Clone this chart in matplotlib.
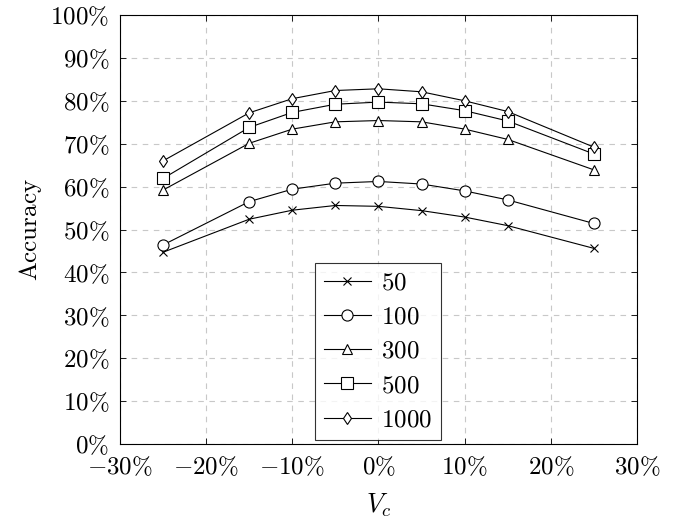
import numpy as np
import matplotlib
matplotlib.use("Agg")
import matplotlib.pyplot as plt

plt.rcParams['mathtext.fontset'] = 'cm'
plt.rcParams['font.family'] = 'serif'
plt.rcParams['font.serif'] = ['DejaVu Serif']

# Vc values (%)
vc = [-25, -15, -10, -5, 0, 5, 10, 15, 25]

# accuracy (%) per sample count
acc_50 = [44.7, 52.4, 54.5, 55.6, 55.4, 54.4, 52.9, 50.9, 45.6]
acc_100 = [46.4, 56.5, 59.4, 60.8, 61.2, 60.6, 59.0, 56.9, 51.4]
acc_300 = [59.2, 70.1, 73.4, 75.1, 75.4, 75.1, 73.4, 71.0, 63.9]
acc_500 = [61.9, 73.8, 77.3, 79.2, 79.7, 79.3, 77.7, 75.3, 67.6]
acc_1000 = [66.0, 77.2, 80.5, 82.4, 82.8, 82.1, 80.0, 77.5, 69.2]

labels = ["50", "100", "300", "500", "1000"]
series = [acc_50, acc_100, acc_300, acc_500, acc_1000]
markers = ['x', 'o', '^', 's', 'd']
msizes = [6, 8, 6.5, 8, 6.5]

xticks = [-30, -20, -10, 0, 10, 20, 30]
yticks = [0, 10, 20, 30, 40, 50, 60, 70, 80, 90, 100]

fig = plt.figure(figsize=(6.76, 5.21), dpi=100)
ax = fig.add_axes([0.1775, 0.1478, 0.7648, 0.8234])

for y, lab, m, ms in zip(series, labels, markers, msizes):
    ax.plot(vc, y, color='black', lw=0.8, marker=m, markersize=ms,
            markerfacecolor='white', markeredgecolor='black',
            markeredgewidth=0.8, label=r'$\mathrm{%s}$' % lab)

ax.set_xlim(-30, 30)
ax.set_ylim(0, 100)
ax.set_xticks(xticks)
ax.set_yticks(yticks)
ax.set_xticklabels([r'$%d\%%$' % t for t in xticks], fontsize=18)
ax.set_yticklabels([r'$%d\%%$' % t for t in yticks], fontsize=18)
ax.tick_params(axis='x', pad=8)
ax.tick_params(axis='y', pad=8)
ax.tick_params(direction='in', top=True, right=True, length=4, width=0.6)
ax.grid(True, color='#c8c8c8', linestyle=(0, (5, 5)), linewidth=0.8)
ax.set_axisbelow(True)
for s in ax.spines.values():
    s.set_linewidth(0.8)

ax.set_xlabel(r'$V_c$', fontsize=19, labelpad=9)
ax.set_ylabel(r'$\mathrm{Accuracy}$', fontsize=18, labelpad=4)

leg = ax.legend(loc='lower left', bbox_to_anchor=(0.377, 0.009), fontsize=18,
                frameon=True, fancybox=False, edgecolor='black',
                handlelength=1.9, borderpad=0.35, labelspacing=0.45,
                handletextpad=0.4, borderaxespad=0)
leg.get_frame().set_linewidth(0.8)

fig.savefig("out.png", dpi=100)
